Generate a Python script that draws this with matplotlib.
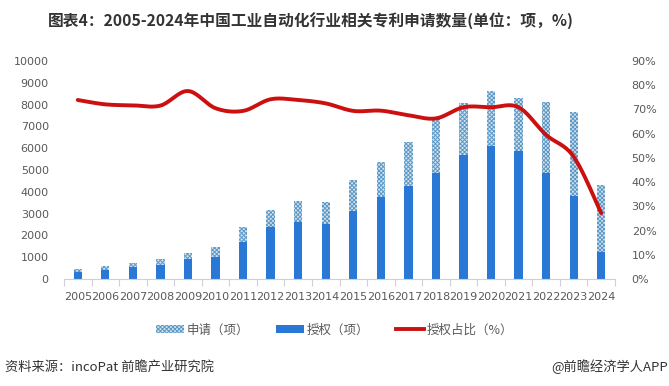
import numpy as np
import matplotlib.pyplot as plt
from matplotlib.patches import Patch
from matplotlib.lines import Line2D

plt.rcParams['font.family'] = ['Noto Sans CJK SC', 'DejaVu Sans']
plt.rcParams['hatch.linewidth'] = 0.7

years = [str(y) for y in range(2005, 2025)]
apply_cnt = [450, 610, 730, 915, 1205, 1480, 2380, 3175, 3590, 3540,
             4550, 5375, 6290, 7375, 8090, 8625, 8305, 8120, 7680, 4320]
grant_cnt = [335, 430, 565, 655, 930, 1020, 1680, 2365, 2625, 2535,
             3130, 3740, 4245, 4885, 5710, 6120, 5850, 4840, 3785, 1220]
grant_ratio = [73.9, 72.1, 71.7, 71.6, 77.6, 70.5, 69.4, 74.2, 73.9, 72.5,
               69.4, 69.5, 67.6, 66.3, 70.9, 70.9, 70.9, 59.5, 50.5, 27.2]


def smooth(x, y, n=20):
    # excel-like smoothed line: cubic bezier, catmull-rom control points
    x = np.asarray(x, float)
    y = np.asarray(y, float)
    px, py = [], []
    for i in range(len(x) - 1):
        i0, i3 = max(i - 1, 0), min(i + 2, len(x) - 1)
        c1x = x[i] + (x[i + 1] - x[i0]) / 6
        c1y = y[i] + (y[i + 1] - y[i0]) / 6
        c2x = x[i + 1] - (x[i3] - x[i]) / 6
        c2y = y[i + 1] - (y[i3] - y[i]) / 6
        t = np.linspace(0, 1, n)
        px.extend((1-t)**3*x[i] + 3*(1-t)**2*t*c1x + 3*(1-t)*t**2*c2x + t**3*x[i+1])
        py.extend((1-t)**3*y[i] + 3*(1-t)**2*t*c1y + 3*(1-t)*t**2*c2y + t**3*y[i+1])
    return px, py


fig = plt.figure(figsize=(6.69, 3.86), dpi=100)
ax = fig.add_axes([64/669, 107/386, 551/669, 218/386])
ax2 = ax.twinx()

x = np.arange(len(years))
w = 0.3
hatch_kw = dict(facecolor='#d3e3ef', edgecolor='#5b98c6', hatch='xxxxxxxx', linewidth=0)
ax.bar(x, apply_cnt, w, **hatch_kw)
ax.bar(x, grant_cnt, w, color='#2a78d6', linewidth=0)

lx, ly = smooth(x, grant_ratio)
ax2.plot(lx, np.array(ly) / 100, color='#cc1010', lw=2.8, solid_capstyle='round')

ax.set_xlim(-0.5, len(years) - 0.5)
ax.set_ylim(0, 10000)
ax.set_yticks(range(0, 10001, 1000))
ax2.set_ylim(0, 0.9)
ax2.set_yticks(np.arange(0, 0.91, 0.1))
ax2.set_yticklabels([f'{int(round(v*100))}%' for v in np.arange(0, 0.91, 0.1)])

ax.set_xticks(x)
ax.set_xticklabels(years)
ax.set_xticks(np.arange(-0.5, len(years), 1), minor=True)
ax.tick_params(axis='x', which='major', length=0, pad=9, labelcolor='#595959')
ax.tick_params(axis='x', which='minor', length=5, color='#d0d0d0', width=0.8)
ax.tick_params(axis='y', length=0, labelcolor='#595959', pad=11)
ax2.tick_params(axis='y', length=0, labelcolor='#595959', pad=12)
for lab in ax.get_xticklabels() + ax.get_yticklabels() + ax2.get_yticklabels():
    lab.set_family('DejaVu Sans')
    lab.set_fontsize(8)
for a in (ax, ax2):
    for s in a.spines.values():
        s.set_visible(False)
ax.spines['bottom'].set_visible(True)
ax.spines['bottom'].set_color('#d0d0d0')

fig.text(0.465, 0.945, '图表4：2005-2024年中国工业自动化行业相关专利申请数量(单位：项，%)',
         ha='center', va='center', fontsize=11.3, fontweight='bold', color='#333333')

handles = [Patch(**hatch_kw),
           Patch(facecolor='#2a78d6'),
           Line2D([], [], color='#cc1010', lw=2.8)]
fig.legend(handles, ['申请（项）', '授权（项）', '授权占比（%）'], loc='center',
           bbox_to_anchor=(0.50, 0.145), ncol=3, frameon=False, fontsize=9,
           handlelength=2.3, handleheight=0.6, columnspacing=2.1, handletextpad=0.2,
           labelcolor='#595959')

fig.text(0.008, 0.049, '资料来源：incoPat 前瞻产业研究院', fontsize=9.5, color='#333333', va='center')
fig.text(0.998, 0.049, '@前瞻经济学人APP', fontsize=9.5, color='#333333', va='center', ha='right')

fig.savefig('out.png', dpi=100)
